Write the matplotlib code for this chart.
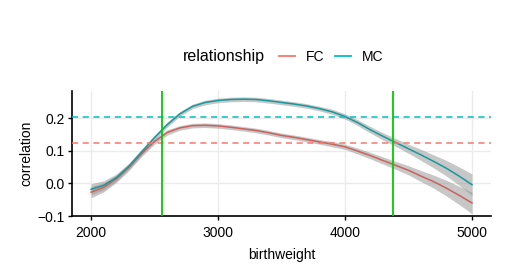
import numpy as np
import matplotlib
matplotlib.use("Agg")
import matplotlib.pyplot as plt
from matplotlib.lines import Line2D

# smoothed correlation by birthweight
birthweight = [2000, 2100, 2200, 2300, 2400, 2500, 2600, 2700, 2800, 2900,
               3000, 3100, 3200, 3300, 3400, 3500, 3600, 3700, 3800, 3900,
               4000, 4100, 4200, 4300, 4400, 4500, 4600, 4700, 4800, 4900, 5000]
mc_corr = [-0.018, -0.006, 0.018, 0.053, 0.097, 0.140, 0.180, 0.213, 0.236, 0.248,
           0.254, 0.257, 0.258, 0.257, 0.253, 0.248, 0.243, 0.237, 0.229, 0.219,
           0.205, 0.186, 0.164, 0.144, 0.125, 0.106, 0.087, 0.067, 0.046, 0.022, -0.004]
fc_corr = [-0.027, -0.012, 0.014, 0.050, 0.092, 0.128, 0.156, 0.170, 0.177, 0.178,
           0.176, 0.172, 0.167, 0.162, 0.155, 0.147, 0.141, 0.134, 0.127, 0.120,
           0.112, 0.099, 0.085, 0.070, 0.055, 0.040, 0.022, 0.005, -0.015, -0.037, -0.060]
# half-width of the confidence band
band = [0.017, 0.014, 0.011, 0.010, 0.009, 0.008, 0.008, 0.007, 0.007, 0.007,
        0.007, 0.007, 0.007, 0.007, 0.007, 0.007, 0.007, 0.007, 0.007, 0.008,
        0.008, 0.009, 0.010, 0.011, 0.012, 0.014, 0.017, 0.020, 0.024, 0.028, 0.033]
mean_corr = {"FC": 0.125, "MC": 0.202}
cutoffs = [2559, 4375]

colors = {"FC": "#F8766D", "MC": "#00BFC4"}
line_cols = {"FC": "#c9625b", "MC": "#16989c"}

plt.rcParams["font.family"] = ["Liberation Sans", "DejaVu Sans"]
fig = plt.figure(figsize=(5.11, 2.75), dpi=100)
ax = fig.add_axes([72 / 511, 59 / 275, 419 / 511, 125 / 275])

x = np.array(birthweight)
se = np.array(band)
for key, y in (("FC", fc_corr), ("MC", mc_corr)):
    y = np.array(y)
    ax.fill_between(x, y - se, y + se, color="#999999", alpha=0.55, lw=0, zorder=2)
    ax.plot(x, y, color=line_cols[key], lw=1.1, zorder=3)
    ax.axhline(mean_corr[key], color=colors[key], lw=1.1, ls=(0, (4, 3)), zorder=4)
for c in cutoffs:
    ax.axvline(c, color="#00CD00", lw=1.3, zorder=5)

ax.set_xlim(1850, 5150)
ax.set_ylim(-0.1, 0.283)
ax.set_xticks([2000, 3000, 4000, 5000])
ax.set_yticks([-0.1, 0.0, 0.1, 0.2])
ax.set_yticklabels(["\u22120.1", "0.0", "0.1", "0.2"])
ax.grid(True, color="#ebebeb", lw=1.0, zorder=0)
ax.set_axisbelow(True)
for s in ("top", "right"):
    ax.spines[s].set_visible(False)
for s in ("left", "bottom"):
    ax.spines[s].set_linewidth(1.2)
    ax.spines[s].set_color("black")
ax.tick_params(length=3, width=1.0, labelsize=10, color="black", pad=2)
ax.tick_params(axis="x", pad=4)
ax.set_xlabel("birthweight", fontsize=10, labelpad=6)
ax.set_ylabel("correlation", fontsize=10, labelpad=3)

# legend: title on the left, entries in one row
fig.text(183 / 511, 1 - 57 / 275, "relationship", fontsize=11.5, ha="left", va="center")
handles = [Line2D([], [], color=colors[k], lw=1.3) for k in ("FC", "MC")]
fig.legend(handles, ["FC", "MC"], loc="center left",
           bbox_to_anchor=(279 / 511, 1 - 57 / 275), ncol=2, frameon=False,
           fontsize=10, handlelength=1.15, columnspacing=0.8,
           handletextpad=0.75, borderpad=0, borderaxespad=0)

fig.savefig("out.png", dpi=100)
